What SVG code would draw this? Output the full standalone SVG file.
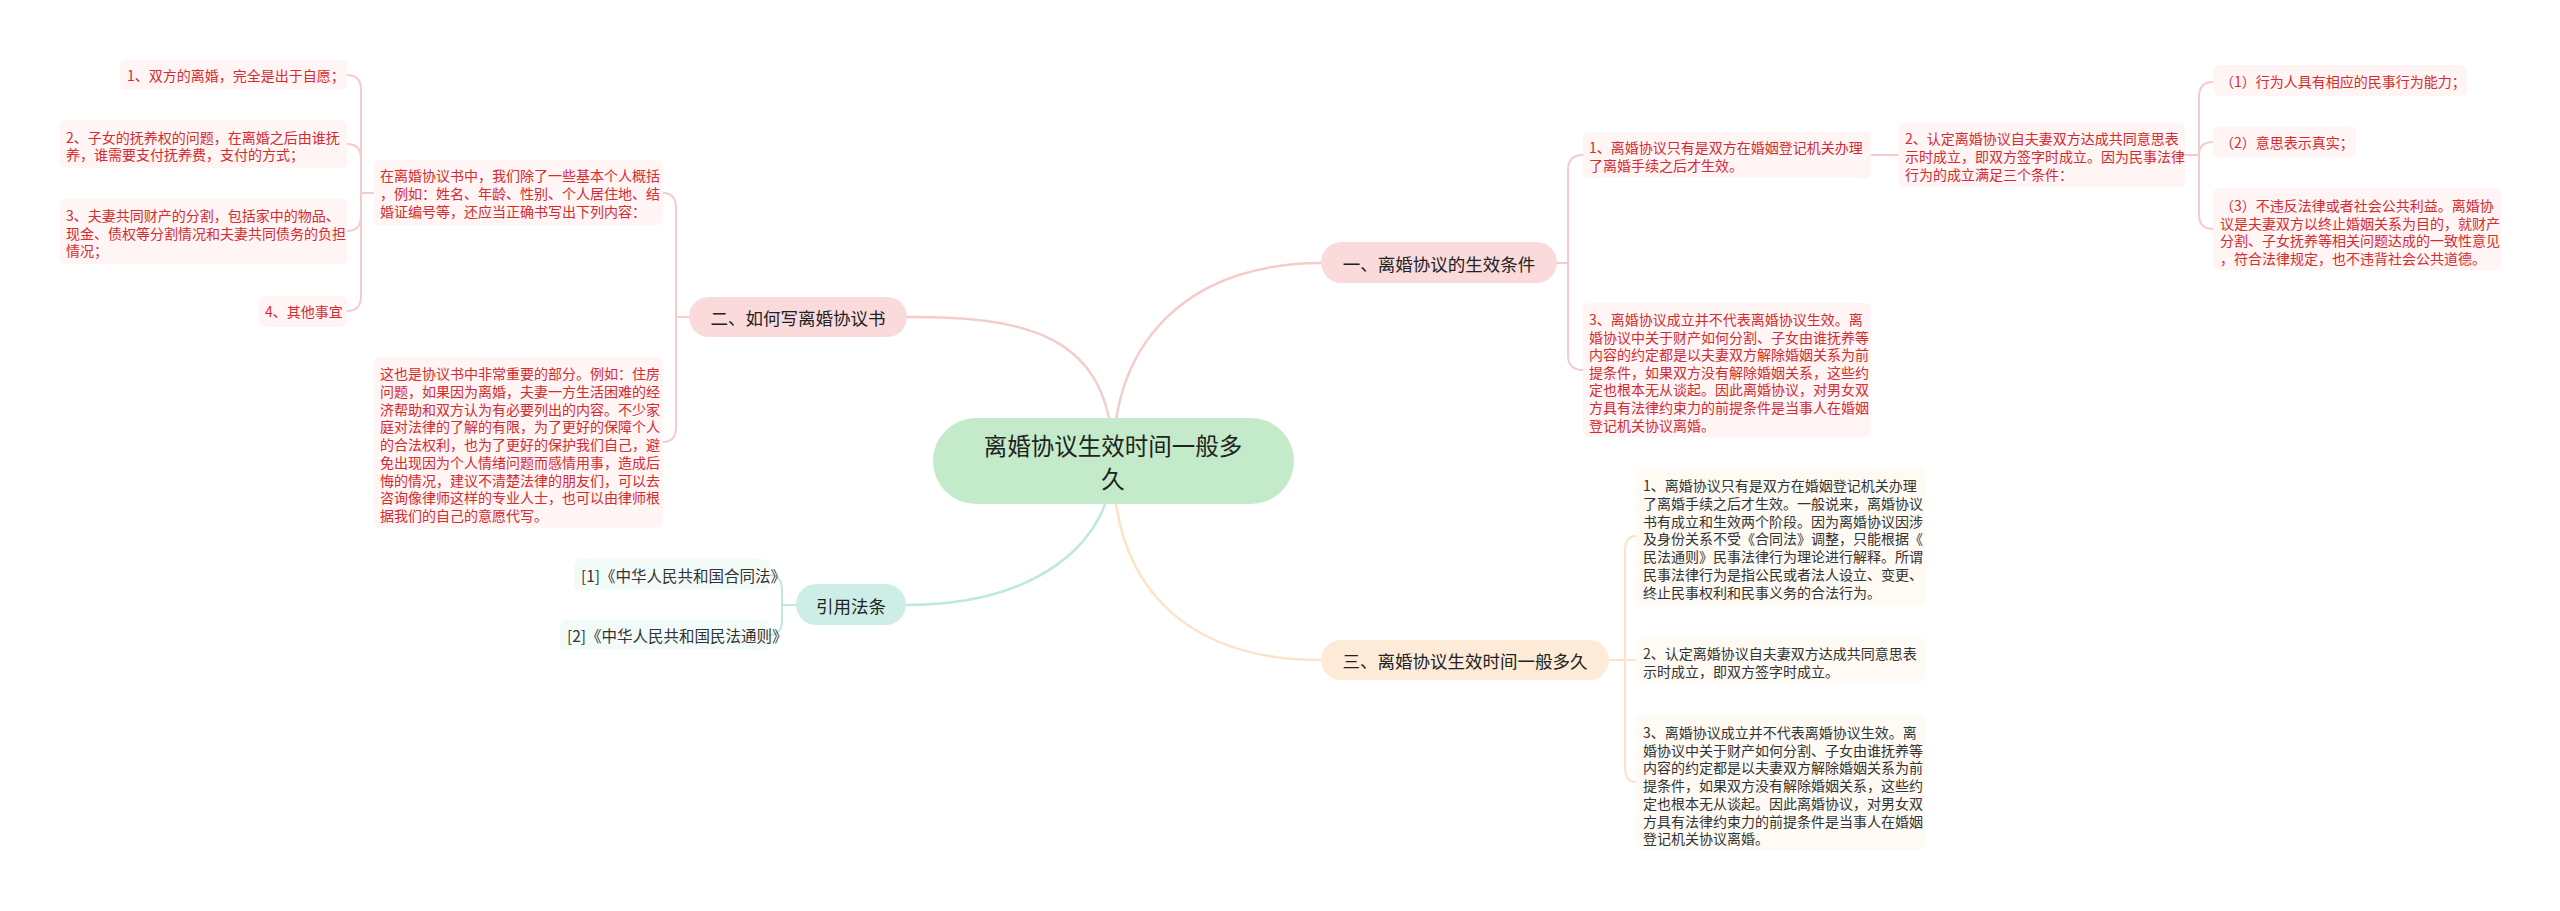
<svg xmlns="http://www.w3.org/2000/svg" width="2560" height="911" viewBox="0 0 2560 911">
<style>
text{font-family:"Noto Sans CJK SC","Microsoft YaHei",sans-serif;dominant-baseline:central}
.bg{fill:#ffffff}
.c{fill:none;stroke-linecap:round}
.cp{stroke:#f5cccc;stroke-width:2.5}
.ct{stroke:#bfe8df;stroke-width:2.5}
.co{stroke:#fbe3c8;stroke-width:2.5}
.sp{stroke:#f5cccc;stroke-width:2}
.st{stroke:#bfe8df;stroke-width:2}
.so{stroke:#fbe3c8;stroke-width:2}
.root{fill:#c4ebc9}
.bp{fill:#fadada}
.bo{fill:#fdebd8}
.bt{fill:#cdeee6}
.lp{fill:#fff5f5}
.lo{fill:#fffaf4}
.lt{fill:#f3fbf9}
.tr{font-size:23.5px;fill:#222;text-anchor:middle}
.tb{font-size:17.5px;fill:#222;text-anchor:middle}
.tp{font-size:14px;fill:#d52b30}
.to{font-size:14px;fill:#333}
.tt{font-size:15.5px;fill:#333}
</style>
<rect class="bg" x="0" y="0" width="2560" height="911"/>
<g id="connectors">
<path class="c cp" d="M1113,461 C1113,330 1020,317 907,317"/>
<path class="c cp" d="M1113,461 C1113,330 1200,263 1321,263"/>
<path class="c ct" d="M1113,461 C1113,540 1040,605 906,605"/>
<path class="c co" d="M1113,461 C1113,600 1200,660 1321,660"/>
<path class="c sp" d="M1557,263 H1568 M1568,263 V170 Q1568,155 1583,155 M1568,263 V355 Q1568,370 1583,370"/>
<path class="c sp" d="M1871,155 H1898"/>
<path class="c sp" d="M2185,155 H2199 M2199,155 V97 Q2199,82 2213,82 M2199,155 Q2199,142 2213,142 M2199,155 V214 Q2199,229 2213,229"/>
<path class="c so" d="M1609,660 H1636 M1625,660 V551 Q1625,536 1636,536 M1625,660 V767 Q1625,782 1636,782"/>
<path class="c sp" d="M689,317 H676 M676,317 V208 Q676,193 663,193 M676,317 V427 Q676,442 663,442"/>
<path class="c sp" d="M374,193 H361 M361,193 V90 Q361,75 347,75 M361,193 V159 Q361,144 347,144 M361,193 V216 Q361,231 347,231 M361,193 V296 Q361,311 347,311"/>
<path class="c st" d="M796,605 H782 M782,605 V590 Q782,575 769,575 M782,605 V620 Q782,635 769,635"/>
</g>
<g id="root">
<rect class="root" x="933" y="418" width="361" height="86" rx="43"/>
<text class="tr" x="1113" y="445">离婚协议生效时间一般多</text>
<text class="tr" x="1113" y="478">久</text>
</g>
<g id="b1">
<rect class="bp" x="1321" y="242" width="236" height="41" rx="20.5"/>
<text class="tb" x="1439" y="263">一、离婚协议的生效条件</text>
</g>
<g id="b2">
<rect class="bp" x="689" y="297" width="218" height="40" rx="20"/>
<text class="tb" x="798" y="317">二、如何写离婚协议书</text>
</g>
<g id="b3">
<rect class="bo" x="1321" y="640" width="288" height="40" rx="20"/>
<text class="tb" x="1465" y="660">三、离婚协议生效时间一般多久</text>
</g>
<g id="b4">
<rect class="bt" x="796" y="584" width="110" height="41" rx="20.5"/>
<text class="tb" x="851" y="605">引用法条</text>
</g>
<g id="r1">
<rect class="lp" x="1583" y="132" width="288" height="46" rx="6"/>
<text class="tp" x="1589" y="147">1、离婚协议只有是双方在婚姻登记机关办理</text>
<text class="tp" x="1589" y="165">了离婚手续之后才生效。</text>
</g>
<g id="r2">
<rect class="lp" x="1898" y="123" width="287" height="64" rx="6"/>
<text class="tp" x="1905" y="138">2、认定离婚协议自夫妻双方达成共同意思表</text>
<text class="tp" x="1905" y="156">示时成立，即双方签字时成立。因为民事法律</text>
<text class="tp" x="1905" y="174">行为的成立满足三个条件：</text>
</g>
<g id="r3">
<rect class="lp" x="1583" y="303" width="288" height="134" rx="6"/>
<text class="tp" x="1589" y="319">3、离婚协议成立并不代表离婚协议生效。离</text>
<text class="tp" x="1589" y="336.6">婚协议中关于财产如何分割、子女由谁抚养等</text>
<text class="tp" x="1589" y="354.2">内容的约定都是以夫妻双方解除婚姻关系为前</text>
<text class="tp" x="1589" y="371.8">提条件，如果双方没有解除婚姻关系，这些约</text>
<text class="tp" x="1589" y="389.4">定也根本无从谈起。因此离婚协议，对男女双</text>
<text class="tp" x="1589" y="407">方具有法律约束力的前提条件是当事人在婚姻</text>
<text class="tp" x="1589" y="424.6">登记机关协议离婚。</text>
</g>
<g id="rr1">
<rect class="lp" x="2213" y="65" width="254" height="31" rx="6"/>
<text class="tp" x="2220" y="81">（1）行为人具有相应的民事行为能力；</text>
</g>
<g id="rr2">
<rect class="lp" x="2213" y="126" width="143" height="31" rx="6"/>
<text class="tp" x="2220" y="142">（2）意思表示真实；</text>
</g>
<g id="rr3">
<rect class="lp" x="2213" y="188" width="288" height="82" rx="6"/>
<text class="tp" x="2220" y="205">（3）不违反法律或者社会公共利益。离婚协</text>
<text class="tp" x="2220" y="222.7">议是夫妻双方以终止婚姻关系为目的，就财产</text>
<text class="tp" x="2220" y="240.4">分割、子女抚养等相关问题达成的一致性意见</text>
<text class="tp" x="2220" y="258">，符合法律规定，也不违背社会公共道德。</text>
</g>
<g id="o1">
<rect class="lo" x="1636" y="468" width="289" height="137" rx="6"/>
<text class="to" x="1643" y="485">1、离婚协议只有是双方在婚姻登记机关办理</text>
<text class="to" x="1643" y="502.8">了离婚手续之后才生效。一般说来，离婚协议</text>
<text class="to" x="1643" y="520.6">书有成立和生效两个阶段。因为离婚协议因涉</text>
<text class="to" x="1643" y="538.4">及身份关系不受《合同法》调整，只能根据《</text>
<text class="to" x="1643" y="556.2">民法通则》民事法律行为理论进行解释。所谓</text>
<text class="to" x="1643" y="574">民事法律行为是指公民或者法人设立、变更、</text>
<text class="to" x="1643" y="591.8">终止民事权利和民事义务的合法行为。</text>
</g>
<g id="o2">
<rect class="lo" x="1636" y="637" width="289" height="46" rx="6"/>
<text class="to" x="1643" y="653">2、认定离婚协议自夫妻双方达成共同意思表</text>
<text class="to" x="1643" y="671">示时成立，即双方签字时成立。</text>
</g>
<g id="o3">
<rect class="lo" x="1636" y="715" width="289" height="135" rx="6"/>
<text class="to" x="1643" y="732">3、离婚协议成立并不代表离婚协议生效。离</text>
<text class="to" x="1643" y="749.7">婚协议中关于财产如何分割、子女由谁抚养等</text>
<text class="to" x="1643" y="767.4">内容的约定都是以夫妻双方解除婚姻关系为前</text>
<text class="to" x="1643" y="785.1">提条件，如果双方没有解除婚姻关系，这些约</text>
<text class="to" x="1643" y="802.8">定也根本无从谈起。因此离婚协议，对男女双</text>
<text class="to" x="1643" y="820.5">方具有法律约束力的前提条件是当事人在婚姻</text>
<text class="to" x="1643" y="838.2">登记机关协议离婚。</text>
</g>
<g id="p1">
<rect class="lp" x="374" y="160" width="289" height="65" rx="6"/>
<text class="tp" x="380" y="175">在离婚协议书中，我们除了一些基本个人概括</text>
<text class="tp" x="380" y="193">，例如：姓名、年龄、性别、个人居住地、结</text>
<text class="tp" x="380" y="211">婚证编号等，还应当正确书写出下列内容：</text>
</g>
<g id="p2">
<rect class="lp" x="374" y="357" width="289" height="171" rx="6"/>
<text class="tp" x="380" y="373">这也是协议书中非常重要的部分。例如：住房</text>
<text class="tp" x="380" y="390.75">问题，如果因为离婚，夫妻一方生活困难的经</text>
<text class="tp" x="380" y="408.5">济帮助和双方认为有必要列出的内容。不少家</text>
<text class="tp" x="380" y="426.25">庭对法律的了解的有限，为了更好的保障个人</text>
<text class="tp" x="380" y="444">的合法权利，也为了更好的保护我们自己，避</text>
<text class="tp" x="380" y="461.75">免出现因为个人情绪问题而感情用事，造成后</text>
<text class="tp" x="380" y="479.5">悔的情况，建议不清楚法律的朋友们，可以去</text>
<text class="tp" x="380" y="497.25">咨询像律师这样的专业人士，也可以由律师根</text>
<text class="tp" x="380" y="515">据我们的自己的意愿代写。</text>
</g>
<g id="l1">
<rect class="lp" x="120" y="60" width="227" height="30" rx="6"/>
<text class="tp" x="127" y="75">1、双方的离婚，完全是出于自愿；</text>
</g>
<g id="l2">
<rect class="lp" x="60" y="120" width="287" height="48" rx="6"/>
<text class="tp" x="66" y="137">2、子女的抚养权的问题，在离婚之后由谁抚</text>
<text class="tp" x="66" y="154">养，谁需要支付抚养费，支付的方式；</text>
</g>
<g id="l3">
<rect class="lp" x="60" y="199" width="287" height="65" rx="6"/>
<text class="tp" x="66" y="215">3、夫妻共同财产的分割，包括家中的物品、</text>
<text class="tp" x="66" y="232.5">现金、债权等分割情况和夫妻共同债务的负担</text>
<text class="tp" x="66" y="250">情况；</text>
</g>
<g id="l4">
<rect class="lp" x="259" y="296" width="88" height="31" rx="6"/>
<text class="tp" x="265" y="311">4、其他事宜</text>
</g>
<g id="t1">
<rect class="lt" x="574" y="559" width="195" height="31" rx="6"/>
<text class="tt" x="581" y="575">[1]《中华人民共和国合同法》</text>
</g>
<g id="t2">
<rect class="lt" x="560" y="620" width="209" height="30" rx="6"/>
<text class="tt" x="567" y="635">[2]《中华人民共和国民法通则》</text>
</g>
</svg>
